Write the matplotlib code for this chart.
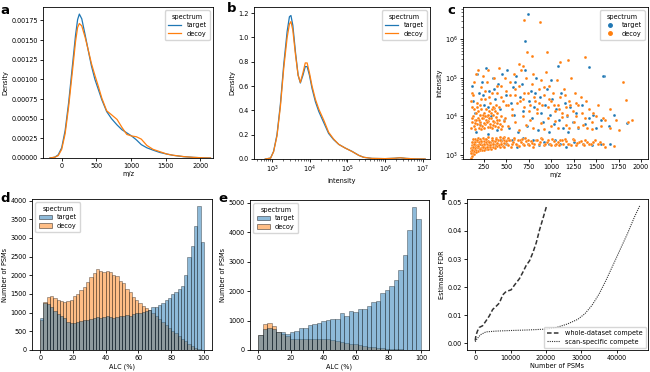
import numpy as np
import matplotlib
matplotlib.use("Agg")
import matplotlib.pyplot as plt
from matplotlib.patches import Patch
from matplotlib.lines import Line2D

BLUE = "#1f77b4"
ORANGE = "#ff7f0e"
FS = 4.7

# ---- panel a: KDE of precursor m/z ----
mz_grid = [-170, -100, -50, 0, 50, 100, 150, 200, 230, 255, 290, 340, 390, 430, 480,
           530, 580, 650, 720, 800, 870, 940, 1010, 1080, 1150, 1230, 1320, 1420,
           1520, 1610, 1760, 1900, 2050, 2150]
mz_target = [0, 0.00001, 0.00004, 0.00013, 0.00035, 0.0007, 0.00113, 0.00156, 0.00176,
             0.00183, 0.00177, 0.00156, 0.00134, 0.00117, 0.001, 0.00087, 0.00074,
             0.00059, 0.0005, 0.00042, 0.00036, 0.00032, 0.00028, 0.00023, 0.00017,
             0.00013, 0.0001, 0.00007, 0.00005, 0.000034, 0.000017, 0.000008, 0.000002, 0]
mz_decoy = [0, 0.00001, 0.00003, 0.00011, 0.00031, 0.00065, 0.00106, 0.00148, 0.00166,
            0.00171, 0.00168, 0.00153, 0.00135, 0.0012, 0.00105, 0.00091, 0.00076,
            0.0006, 0.00055, 0.00049, 0.00039, 0.0003, 0.00028, 0.00027, 0.00024,
            0.00016, 0.00011, 0.00008, 0.00005, 0.000035, 0.000018, 0.000008, 0.000002, 0]

# ---- panel b: KDE of intensity (log10 grid) ----
logint_grid = [2.82, 2.96, 3.04, 3.13, 3.22, 3.31, 3.40, 3.46, 3.50, 3.55, 3.62, 3.69,
               3.75, 3.82, 3.88, 3.93, 3.99, 4.06, 4.15, 4.24, 4.37, 4.50, 4.63, 4.77,
               4.94, 5.12, 5.30, 5.43, 5.65, 6.0, 6.25, 6.4, 6.55, 6.8, 7.06]
int_target = [0, 0.008, 0.063, 0.2, 0.45, 0.78, 1.05, 1.17, 1.18, 1.1, 0.88, 0.69, 0.625,
              0.69, 0.76, 0.76, 0.69, 0.58, 0.47, 0.39, 0.3, 0.21, 0.16, 0.12, 0.09,
              0.063, 0.03, 0.014, 0.005, 0.003, 0.006, 0.01, 0.005, 0.001, 0]
int_decoy = [0, 0.007, 0.06, 0.19, 0.43, 0.75, 1.0, 1.11, 1.13, 1.06, 0.86, 0.69, 0.63,
             0.71, 0.79, 0.79, 0.71, 0.6, 0.49, 0.41, 0.32, 0.22, 0.165, 0.12, 0.09,
             0.062, 0.03, 0.014, 0.005, 0.003, 0.006, 0.01, 0.005, 0.001, 0]

# ---- panel c: scatter m/z vs log10 intensity ----
sc_target_mz = [120, 130, 145, 160, 175, 190, 210, 230, 250, 270, 290, 310, 330, 350, 370,
                390, 410, 430, 450, 470, 490, 510, 530, 550, 570, 590, 610, 630, 650, 670,
                690, 710, 730, 750, 770, 790, 810, 830, 850, 870, 890, 910, 930, 950, 970,
                990, 1010, 1030, 1050, 1070, 1090, 1110, 1130, 1150, 1170, 1190, 1210, 1240,
                1270, 1300, 1340, 1380, 1420, 1460, 1500, 1550, 1590, 1640, 1700, 1840,
                140, 200, 260, 320, 380, 440, 500, 560, 620, 680, 740, 800, 860, 920, 980,
                1040, 1100, 1160, 1250, 1350, 1450, 1550, 1650,
                744, 707, 1580, 1420, 240, 300, 360, 600, 820, 1000]
sc_target_logint = [4.8, 4.4, 4.1, 3.6, 5.1, 4.6, 3.8, 4.9, 4.3, 5.25, 3.55, 4.65, 4.0, 5.0,
                    4.45, 3.65, 4.85, 4.2, 5.1, 3.9, 4.55, 5.2, 3.7, 4.35, 4.75, 4.05, 5.05,
                    3.6, 4.5, 4.85, 4.15, 5.2, 3.75, 4.4, 4.65, 3.95, 4.25, 5.0, 3.65, 4.5,
                    4.1, 3.85, 4.3, 4.7, 3.6, 4.05, 4.45, 3.8, 4.2, 5.3, 3.9, 4.6, 3.7, 4.35,
                    4.0, 3.6, 4.25, 3.85, 4.1, 3.7, 4.3, 3.8, 3.95, 4.05, 3.7, 3.9, 5.05,
                    3.75, 4.03, 3.82,
                    3.2, 3.3, 3.15, 3.35, 3.25, 3.4, 3.28, 3.38, 3.22, 3.45, 3.3, 3.4, 3.25,
                    3.35, 3.28, 3.4, 3.3, 3.22, 3.35, 3.3, 3.25, 3.3, 3.28,
                    6.64, 5.95, 5.05, 5.28, 4.55, 4.25, 4.7, 4.9, 4.6, 4.95]

sc_decoy_mz = [
    # dense low band
    108, 115, 122, 135, 110, 125, 140, 160, 180, 205, 230, 250, 280, 300, 330,
    105, 120, 138, 155, 172, 195, 215, 240, 262, 290, 315, 345, 372, 400, 430, 465,
    112, 130, 148, 168, 188, 210, 232, 255, 278, 305, 325, 352, 380, 410, 440, 470, 510,
    118, 135, 152, 175, 198, 220, 245, 270, 295, 320, 348, 375, 405, 435, 468, 505, 545,
    125, 150, 178, 205, 235, 265, 300, 340, 380, 425, 470, 520,
    560, 590, 620, 650, 680, 710, 740, 770, 800, 830, 860, 890, 920, 950, 985, 1010,
    1040, 1075, 1100, 1130, 1165, 1200, 1240, 1270, 1310, 1350, 1380, 1420, 1470, 1520,
    1600, 1700,
    # dense cluster around 10^4
    110, 120, 130, 140, 150, 160, 170, 180, 190, 200, 210, 220, 230, 240, 250, 260, 270,
    280, 290, 300, 310, 320, 330, 340, 350, 360, 370, 380, 390, 400, 410, 420, 430, 440,
    455, 470, 115, 135, 155, 175, 195, 215, 235, 255, 275, 295, 315, 335, 355, 375, 395,
    415, 435, 118, 145, 165, 185, 205, 225, 245, 265, 285, 305, 325, 345, 365,
    # mid cloud
    480, 520, 560, 600, 640, 680, 720, 760, 800, 840, 880, 920, 960, 1000, 1040, 1080,
    1120, 1160, 1200, 1250, 1300, 1350, 1400, 1450,
    # upper cloud
    105, 120, 140, 160, 180, 200, 220, 240, 260, 280, 300, 320, 340, 360, 380, 400, 420,
    440, 460, 480, 500, 520, 540, 560, 580, 600, 620, 640, 660, 680, 700, 720, 740, 760,
    780, 800, 820, 840, 860, 880, 900, 920, 940, 960, 980, 1000, 1020, 1040, 1060, 1080,
    1100, 1120, 1140, 1160, 1180, 1200, 1220, 1240, 1260, 1280, 1300, 1340, 1380, 1420,
    1450, 1500, 1550, 1600, 1650, 1750, 1850, 1800, 1830, 1900,
    # outliers
    696, 874, 726, 781, 956, 1376, 690, 640, 1100, 1190]
sc_decoy_logint = [
    2.93, 2.98, 3.02, 3.04, 3.1, 3.08, 3.11, 3.12, 3.1, 3.13, 3.12, 3.14, 3.15, 3.16, 3.17,
    3.18, 3.17, 3.19, 3.18, 3.2, 3.19, 3.18, 3.2, 3.19, 3.21, 3.2, 3.22, 3.21, 3.23, 3.22, 3.24,
    3.26, 3.27, 3.25, 3.27, 3.26, 3.28, 3.27, 3.26, 3.28, 3.27, 3.29, 3.28, 3.3, 3.29, 3.3, 3.31, 3.3,
    3.34, 3.35, 3.33, 3.36, 3.34, 3.35, 3.37, 3.34, 3.36, 3.35, 3.37, 3.36, 3.38, 3.37, 3.39, 3.38, 3.4,
    3.42, 3.43, 3.44, 3.42, 3.45, 3.43, 3.46, 3.44, 3.45, 3.47, 3.46, 3.45,
    3.3, 3.42, 3.25, 3.38, 3.3, 3.45, 3.28, 3.36, 3.22, 3.4, 3.3, 3.44, 3.26, 3.35, 3.3, 3.42,
    3.25, 3.33, 3.4, 3.28, 3.37, 3.3, 3.42, 3.25, 3.35, 3.3, 3.4, 3.28, 3.33, 3.3,
    3.22, 3.23,
    3.7, 3.85, 4.0, 3.75, 3.9, 4.1, 3.8, 3.95, 3.7, 4.05, 3.85, 4.2, 3.75, 3.95, 4.1, 3.8, 3.9,
    4.0, 3.72, 3.88, 4.15, 3.8, 3.95, 3.7, 4.05, 3.85, 3.75, 3.98, 3.82, 4.1, 3.72, 3.9, 3.8, 4.0,
    3.75, 3.88, 4.25, 4.2, 3.68, 4.25, 3.9, 3.68, 4.05, 3.7, 4.2, 4.05, 3.72, 4.2, 3.78, 4.15, 3.92,
    4.25, 3.68, 3.95, 3.82, 3.92, 4.15, 3.78, 3.95, 3.82, 4.02, 3.85, 3.95, 4.08, 3.88, 4.22,
    3.95, 3.75, 4.05, 3.85, 3.65, 4.0, 3.78, 3.9, 3.7, 4.1, 3.82, 3.68, 3.95, 3.75, 3.88, 3.7,
    3.98, 3.78, 3.7, 3.85, 3.72, 3.78, 3.7, 3.68,
    4.4, 4.6, 4.9, 5.1, 5.2, 4.3, 4.75, 5.05, 4.45, 4.9, 5.2, 4.35, 4.6, 5.0, 4.3, 4.8, 5.25,
    4.5, 4.4, 5.0, 4.65, 4.3, 4.9, 4.2, 5.1, 4.55, 4.35, 4.8, 5.2, 4.45, 4.25, 5.0, 4.6, 4.3,
    4.85, 5.1, 4.4, 4.2, 4.7, 4.95, 4.3, 4.55, 5.15, 4.25, 4.8, 4.4, 4.6, 4.15, 4.95, 4.3,
    4.5, 4.1, 4.7, 4.25, 4.05, 4.4, 5.0, 4.15, 4.6, 4.0, 4.3, 4.1, 3.95, 4.2,
    3.85, 4.0, 3.75, 3.9, 3.7, 3.65, 3.85, 4.89, 4.42, 3.9,
    6.49, 6.43, 5.67, 5.57, 5.66, 5.54, 5.3, 5.35, 5.4, 5.45]

# more decoy points filling the low band and the upper cloud
sc_decoy_band_mz = [102, 114, 128, 142, 157, 170, 185, 200, 218, 236, 252, 268, 285, 302,
                    318, 335, 355, 368, 385, 398, 415, 428, 445, 458, 478, 492, 515, 530,
                    550, 570, 585, 605, 625, 640, 660, 675, 695, 715, 735, 755, 780, 810,
                    840, 870, 900, 930, 960, 995, 1025, 1055, 1090, 1120, 1150, 1185, 1215,
                    1255, 1290, 1330, 1365, 1400, 1440, 1490, 1540, 1580]
sc_decoy_band_logint = [3.05, 3.14, 3.22, 3.3, 3.08, 3.4, 3.24, 3.16, 3.36, 3.22, 3.3,
                        3.41, 3.2, 3.33, 3.25, 3.4, 3.29, 3.18, 3.42, 3.32, 3.26, 3.38,
                        3.28, 3.44, 3.22, 3.36, 3.26, 3.4, 3.2, 3.35, 3.45, 3.28, 3.38,
                        3.24, 3.33, 3.42, 3.27, 3.36, 3.4, 3.25, 3.32, 3.28, 3.38, 3.35,
                        3.42, 3.3, 3.4, 3.25, 3.36, 3.3, 3.27, 3.38, 3.43, 3.3, 3.25, 3.38,
                        3.32, 3.36, 3.27, 3.33, 3.3, 3.4, 3.35, 3.28]
sc_decoy_cloud_mz = [130, 170, 215, 265, 310, 355, 395, 445, 495, 545, 595, 650, 700, 750,
                     810, 865, 915, 975, 1030, 1090, 1150, 1210, 1270, 1330, 1390, 1460,
                     1520, 1580, 1650, 1720]
sc_decoy_cloud_logint = [4.55, 4.35, 4.45, 4.65, 4.5, 4.25, 4.6, 4.8, 4.3, 4.55, 4.7, 4.4,
                         4.6, 4.15, 4.5, 4.35, 4.75, 4.45, 4.3, 4.2, 4.55, 4.3, 4.35, 4.5,
                         4.4, 4.1, 4.3, 3.95, 4.2, 3.9]

# ---- panels d, e: ALC histograms ----
alc_d_target = [870, 1250, 1230, 1150, 1050, 970, 900, 850, 760, 730,
                720, 740, 780, 800, 810, 820, 850, 880, 870, 880,
                900, 880, 870, 880, 900, 920, 940, 920, 960, 990,
                1000, 1020, 1050, 1060, 1140, 1150, 1200, 1260, 1330, 1400,
                1500, 1560, 1640, 1720, 2000, 2500, 2780, 3330, 3850, 2900]
alc_d_decoy = [800, 1280, 1420, 1440, 1400, 1330, 1310, 1290, 1300, 1330,
               1450, 1500, 1600, 1700, 1830, 1950, 2050, 2180, 2120, 2100,
               2120, 2100, 2000, 1980, 1850, 1790, 1640, 1560, 1430, 1340,
               1260, 1180, 1130, 1080, 1000, 900, 830, 750, 680, 600,
               520, 450, 380, 300, 230, 170, 110, 60, 30, 10]
alc_e_target = [520, 700, 730, 700, 620, 600, 560, 620, 660, 740, 760, 850,
                880, 900, 970, 1030, 1040, 1060, 1240, 1160, 1340, 1300, 1400, 1380,
                1500, 1620, 1680, 1920, 2040, 2170, 2380, 2700, 3230, 4070, 4850, 4450]
alc_e_decoy = [500, 870, 920, 800, 620, 550, 480, 380, 370, 370, 380, 390,
               390, 380, 370, 360, 340, 310, 280, 250, 220, 190, 160, 130,
               110, 90, 70, 60, 50, 40, 30, 20, 15, 10, 5, 3]

# ---- panel f: FDR curves ----
whole_psms = [0, 190, 660, 1140, 2085, 3030, 3980, 4930, 5870, 6820, 7770, 8720, 10140,
              11090, 12500, 13460, 14400, 15360, 16300, 17250, 18200, 19150, 20100, 20280]
whole_fdr = [0.0009, 0.0027, 0.0044, 0.0056, 0.0062, 0.0079, 0.0097, 0.012, 0.0131, 0.0143,
             0.0172, 0.0184, 0.019, 0.0207, 0.023, 0.0253, 0.0277, 0.0294, 0.0323, 0.0358,
             0.0405, 0.0445, 0.0486, 0.049]
scan_psms = [0, 500, 1500, 3000, 6000, 10000, 15000, 20000, 23000, 26000, 29000, 31000,
             33000, 35000, 37000, 39000, 41000, 43000, 45000, 46500]
scan_fdr = [0.0005, 0.0015, 0.003, 0.004, 0.0043, 0.0045, 0.0047, 0.005, 0.0056, 0.0068,
            0.0085, 0.0105, 0.0135, 0.0175, 0.0225, 0.028, 0.0335, 0.039, 0.045, 0.049]

plt.rcParams["font.family"] = "DejaVu Sans"
plt.rcParams["axes.linewidth"] = 0.6
plt.rcParams["xtick.major.width"] = 0.6
plt.rcParams["ytick.major.width"] = 0.6
plt.rcParams["xtick.major.size"] = 2.2
plt.rcParams["ytick.major.size"] = 2.2
plt.rcParams["xtick.minor.size"] = 1.2
plt.rcParams["ytick.minor.size"] = 1.2
plt.rcParams["xtick.minor.width"] = 0.4
plt.rcParams["ytick.minor.width"] = 0.4
plt.rcParams["xtick.major.pad"] = 1.5
plt.rcParams["ytick.major.pad"] = 1.5

W, H = 650, 372
fig = plt.figure(figsize=(6.5, 3.72), dpi=100)


def box(l, r, t, b):
    return [l / W, (H - b) / H, (r - l) / W, (b - t) / H]


def style(ax, xlabel, ylabel):
    ax.set_xlabel(xlabel, fontsize=FS, labelpad=1.5)
    ax.set_ylabel(ylabel, fontsize=FS, labelpad=2)
    ax.tick_params(labelsize=FS)


def leg(ax, handles, labels, loc):
    ax.legend(handles, labels, title="spectrum", loc=loc, fontsize=FS, title_fontsize=FS,
              handlelength=2.0, borderpad=0.5, labelspacing=0.4, handletextpad=0.8,
              borderaxespad=0.5)


# a
ax = fig.add_axes(box(43, 213, 7, 158))
ax.plot(mz_grid, mz_target, color=BLUE, lw=0.9)
ax.plot(mz_grid, mz_decoy, color=ORANGE, lw=0.9)
ax.set_xlim(-270, 2186)
ax.set_ylim(0, 0.00192)
ax.set_yticks(np.arange(0, 0.0018, 0.00025))
ax.yaxis.set_major_formatter(matplotlib.ticker.FormatStrFormatter("%.5f"))
style(ax, "m/z", "Density")
leg(ax, [Line2D([], [], color=BLUE, lw=0.9), Line2D([], [], color=ORANGE, lw=0.9)],
    ["target", "decoy"], "upper right")

# b
ax = fig.add_axes(box(254, 430, 7, 159))
ax.plot(10 ** np.array(logint_grid), int_target, color=BLUE, lw=0.9)
ax.plot(10 ** np.array(logint_grid), int_decoy, color=ORANGE, lw=0.9)
ax.set_xscale("log")
ax.set_xlim(10 ** 2.52, 10 ** 7.19)
ax.set_ylim(0, 1.25)
style(ax, "intensity", "Density")
leg(ax, [Line2D([], [], color=BLUE, lw=0.9), Line2D([], [], color=ORANGE, lw=0.9)],
    ["target", "decoy"], "upper right")

# c
ax = fig.add_axes(box(463, 648, 7, 159))
ax.scatter(sc_target_mz, 10 ** np.array(sc_target_logint), s=4.5, color=BLUE,
           edgecolors="white", linewidths=0.15)
dec_mz = sc_decoy_mz + sc_decoy_band_mz + sc_decoy_cloud_mz
dec_li = sc_decoy_logint + sc_decoy_band_logint + sc_decoy_cloud_logint
ax.scatter(dec_mz, 10 ** np.array(dec_li), s=4.5, color=ORANGE,
           edgecolors="white", linewidths=0.15)
ax.set_yscale("log")
ax.set_xlim(16, 2078)
ax.set_ylim(10 ** 2.9, 10 ** 6.83)
ax.set_xticks([250, 500, 750, 1000, 1250, 1500, 1750, 2000])
style(ax, "m/z", "intensity")
leg(ax, [Line2D([], [], ls="", marker="o", ms=2.5, color=BLUE),
         Line2D([], [], ls="", marker="o", ms=2.5, color=ORANGE)],
    ["target", "decoy"], "upper right")


def hist(ax, counts_t, counts_d, ymax):
    n = len(counts_t)
    edges = np.linspace(0, 100, n + 1)
    w = edges[1] - edges[0]
    # decoy underneath, target layered on top
    for counts, c in ((counts_d, ORANGE), (counts_t, BLUE)):
        ax.bar(edges[:-1], counts, width=w, align="edge", color=c, alpha=0.5,
               edgecolor="black", linewidth=0.45)
    ax.set_xlim(-5, 105)
    ax.set_ylim(0, ymax)
    handles = [Patch(facecolor=BLUE, edgecolor="black", alpha=0.5, linewidth=0.6),
               Patch(facecolor=ORANGE, edgecolor="black", alpha=0.5, linewidth=0.6)]
    leg(ax, handles, ["target", "decoy"], "upper left")
    style(ax, "ALC (%)", "Number of PSMs")


# d
ax = fig.add_axes(box(32, 212, 199, 350))
hist(ax, alc_d_target, alc_d_decoy, 4043)

# e
ax = fig.add_axes(box(250, 429, 200, 350))
hist(ax, alc_e_target, alc_e_decoy, 5092)

# f
ax = fig.add_axes(box(467, 648, 199, 350))
ax.plot(whole_psms, whole_fdr, color="#333333", ls=(0, (3, 1.5)), lw=1.1,
        label="whole-dataset compete")
ax.plot(scan_psms, scan_fdr, color="#333333", ls=(0, (1, 1)), lw=0.8,
        label="scan-specific compete")
ax.set_xlim(-2325, 48825)
ax.set_ylim(-0.00245, 0.0514)
ax.set_xticks([0, 10000, 20000, 30000, 40000])
style(ax, "Number of PSMs", "Estimated FDR")
ax.legend(loc="lower right", fontsize=FS, handlelength=2.0, borderpad=0.5,
          labelspacing=0.4, borderaxespad=0.3)

for letter, x, y in (("a", 5, 10), ("b", 232, 9), ("c", 451, 11),
                     ("d", 5, 199), ("e", 223, 199), ("f", 444, 197)):
    fig.text(x / W, 1 - y / H, letter, fontsize=9.5, fontweight="bold",
             ha="center", va="center")

fig.savefig("out.png", dpi=100)
